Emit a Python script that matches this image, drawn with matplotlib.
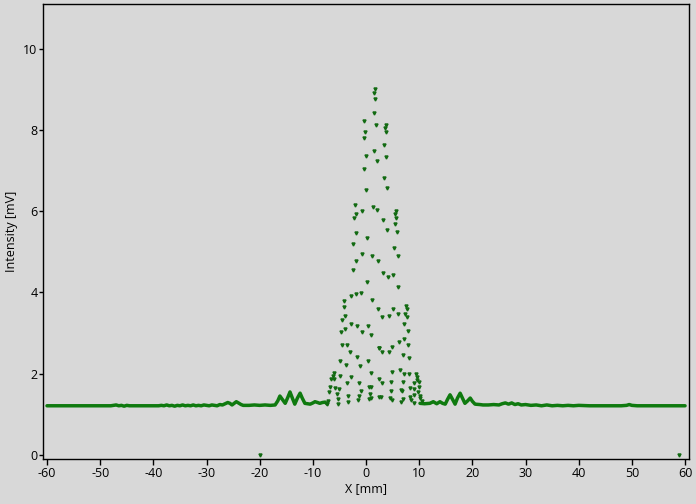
import numpy as np
import matplotlib
matplotlib.use("Agg")
import matplotlib.pyplot as plt

plt.rcParams['font.family'] = ['Open Sans', 'DejaVu Sans']
plt.rcParams['axes.unicode_minus'] = False

# baseline trace
base_x = [-60, -55, -50, -48, -47.5, -47, -46.5, -46, -45.5, -45, -44.5, -44, -42, -40, -39,
          -38.5, -38, -37.5, -37, -36.5, -36, -35.5, -35, -34.5, -34, -33.5, -33, -32.5, -32,
          -31.5, -31, -30.5, -30, -29.5, -29, -28.5, -28, -27.5, -27, -26.5, -26, -25.6, -25.2,
          -24.8, -24.4, -24, -23.5, -23.1, -22, -21, -20, -19, -18, -17.1, -16.6, -16.2, -15.7,
          -15.2, -14.7, -14.3, -13.8, -13.4, -12.9, -12.4, -12, -11.5, -10.5, -10, -9.6, -9.1,
          -8.7, -8.2, -7.7, -7.3]
base_y = [1.21, 1.21, 1.21, 1.21, 1.22, 1.23, 1.21, 1.22, 1.2, 1.22, 1.21, 1.21, 1.21, 1.21, 1.21,
          1.22, 1.21, 1.23, 1.21, 1.22, 1.2, 1.22, 1.21, 1.23, 1.21, 1.22, 1.21, 1.23, 1.21,
          1.22, 1.21, 1.23, 1.22, 1.21, 1.23, 1.22, 1.21, 1.24, 1.23, 1.26, 1.29, 1.27, 1.23,
          1.27, 1.31, 1.28, 1.24, 1.22, 1.22, 1.23, 1.22, 1.23, 1.22, 1.23, 1.33, 1.45, 1.36,
          1.27, 1.42, 1.55, 1.38, 1.25, 1.4, 1.52, 1.4, 1.27, 1.25, 1.28, 1.31, 1.29,
          1.27, 1.29, 1.3, 1.25]
base_x2 = [10.15, 11, 12, 12.65, 13.3, 13.9, 14.4, 14.9, 15.3, 15.8, 16.3, 16.75, 17.2, 17.7,
           18.2, 18.6, 19.1, 19.6, 20.0, 20.5, 21.4, 22, 23, 24, 25, 25.6, 26.2, 26.8, 27.4, 28,
           28.6, 29.2, 30, 31, 32, 33, 34, 35, 36, 37, 38, 39, 40, 42, 45, 48, 49, 49.5, 50, 51,
           55, 60]
base_y2 = [1.27, 1.26, 1.27, 1.31, 1.26, 1.31, 1.27, 1.25, 1.36, 1.48, 1.36, 1.25, 1.4, 1.52,
           1.38, 1.27, 1.33, 1.4, 1.32, 1.25, 1.24, 1.23, 1.23, 1.24, 1.23, 1.26, 1.28, 1.25, 1.28,
           1.24, 1.26, 1.23, 1.24, 1.22, 1.23, 1.21, 1.23, 1.21, 1.22, 1.21, 1.22, 1.21, 1.22,
           1.21, 1.21, 1.21, 1.22, 1.24, 1.22, 1.21, 1.21, 1.21]

# central interference points
pts_x = [1.69, 1.56, 1.75, 1.56, -0.32, 1.93, -0.13, -0.44, 1.44, 0.05, 2.12, -0.44, 0.05,
         -2.13, 1.37, 2.12, -0.70, -1.94, -2.32, -1.94, 0.24, -2.51, 3.70, 3.63, 3.81, 3.44,
         3.81, 3.38, 4.00, 5.70, 5.51, 5.70, 3.25, 5.51, 4.00, 5.88, 5.32,
         -0.76, 1.13, -1.83, 2.31, -2.51, 6.01, 3.25, 4.19, 5.13, 0.18, 6.07, -1.00, -1.88,
         -2.77, 1.18, -4.14, -4.20, 2.25, -3.90, -4.52, -2.82, -1.64, 0.37, -3.90, -4.70,
         -0.81, 1.00, -4.57, -3.63, -2.96, -1.64, 2.38, -4.89, 0.37, -3.76, -1.07, -6.08,
         -6.15, -4.83, 0.88, -6.53, -5.97, -2.88, 2.44, -3.58, -1.38, -6.72, -5.83, -5.03,
         0.62, -1.00, -6.91, -5.46, -3.39, -1.38, 0.69, 2.44, -7.09, -5.21, -1.56, 0.56,
         -7.34, -5.33, -3.45,
         5.13, 7.52, 7.76, 3.06, 4.38, 6.07, 7.39, 7.76, 7.14, 7.96, 7.20, 6.26, 7.96, 2.50,
         4.89, 2.95, 4.32, 7.01, 8.14, 4.95, 6.45, 7.09, 8.14, 9.35, 9.53, 9.65, 3.06, 4.64,
         6.96, 9.08, 9.91, 8.27, 9.02, 10.02, 0.88, 4.76, 6.52, 6.77, 9.78, 8.22, 8.96, 10.1,
         0.88, 2.82, 4.57, 6.90, 6.64, 8.52, 8.96, 10.15, 10.47, 4.83]
pts_y = [9.01, 8.92, 8.75, 8.41, 8.23, 8.13, 7.94, 7.81, 7.49, 7.36, 7.23, 7.04, 6.51,
         6.15, 6.11, 6.04, 6.01, 5.92, 5.82, 5.46, 5.35, 5.20, 8.13, 8.04, 7.94, 7.62,
         7.34, 6.82, 6.56, 6.00, 5.92, 5.84, 5.79, 5.69, 5.54, 5.49, 5.10,
         4.95, 4.90, 4.78, 4.78, 4.55, 4.89, 4.48, 4.38, 4.43, 4.26, 4.13, 3.99, 3.96,
         3.90, 3.82, 3.78, 3.64, 3.60, 3.42, 3.31, 3.22, 3.18, 3.18, 3.11, 3.02,
         3.02, 2.96, 2.71, 2.71, 2.53, 2.42, 2.62, 2.32, 2.32, 2.22, 2.19, 2.02,
         1.95, 1.95, 2.01, 1.86, 1.86, 1.91, 1.86, 1.77, 1.77, 1.68, 1.64, 1.62,
         1.66, 1.58, 1.54, 1.50, 1.46, 1.45, 1.49, 1.43, 1.33, 1.38, 1.35, 1.37,
         1.25, 1.25, 1.30,
         3.60, 3.66, 3.59, 3.40, 3.43, 3.46, 3.46, 3.40, 3.22, 3.04, 2.85, 2.79, 2.71, 2.63,
         2.65, 2.53, 2.53, 2.46, 2.38, 2.03, 2.08, 1.99, 1.99, 1.99, 1.93, 1.85, 1.77, 1.80,
         1.80, 1.78, 1.80, 1.64, 1.62, 1.66, 1.66, 1.58, 1.60, 1.57, 1.55, 1.43, 1.47, 1.44,
         1.41, 1.42, 1.39, 1.37, 1.30, 1.34, 1.29, 1.41, 1.33, 1.34]

# stray points at zero
stray_x = [-19.94, 58.9]
stray_y = [0.0, 0.01]

bg = '#d8d8d8'
green = '#0f7a0f'

fig = plt.figure(figsize=(6.96, 5.04), dpi=100, facecolor=bg)
ax = fig.add_axes([0.0618, 0.0893, 0.9282, 0.9028])
ax.set_facecolor(bg)

ax.plot(base_x, base_y, color=green, lw=2.5, solid_capstyle='round')
ax.plot(base_x2, base_y2, color=green, lw=2.5, solid_capstyle='round')
ax.plot(pts_x, pts_y, ls='none', marker='v', ms=2.2, color='#126a12')
ax.plot(stray_x, stray_y, ls='none', marker='v', ms=2.2, color='#126a12')

ax.set_xlim(-60.75, 60.75)
ax.set_ylim(-0.1, 11.1)
ax.set_xticks(np.arange(-60, 61, 10))
ax.set_yticks(np.arange(0, 11, 2))
ax.tick_params(axis='x', direction='out', length=4, width=1, labelsize=9, pad=2)
ax.tick_params(axis='y', direction='out', length=3, width=1, labelsize=9, pad=1)
for s in ax.spines.values():
    s.set_linewidth(1)
    s.set_color('black')

ax.set_xlabel('X [mm]', fontsize=9, labelpad=1)
ax.set_ylabel('Intensity [mV]', fontsize=9, labelpad=4)

fig.savefig('out.png', dpi=100, facecolor=bg)
